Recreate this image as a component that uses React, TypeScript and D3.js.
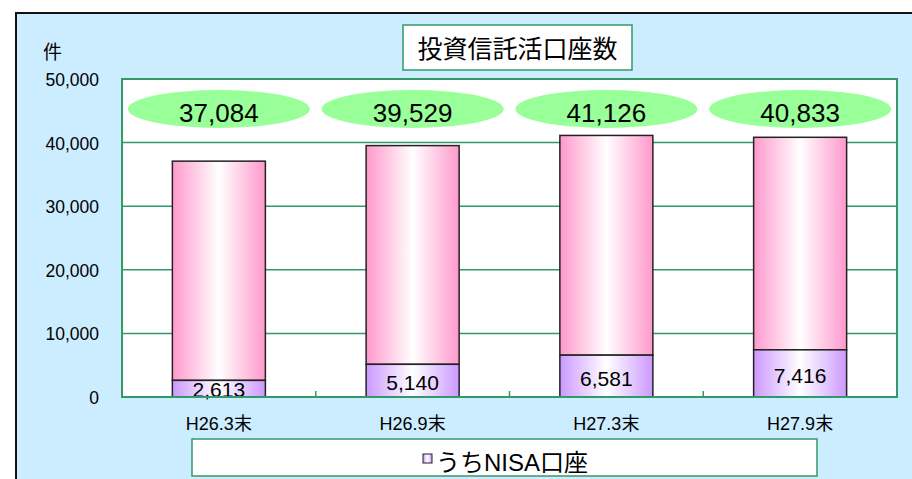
import React from "react";
import * as d3 from "d3";

const categories = ["H26.3末", "H26.9末", "H27.3末", "H27.9末"];
const totals = [37084, 39529, 41126, 40833];
const nisa = [2613, 5140, 6581, 7416];
const yTicks = [0, 10000, 20000, 30000, 40000, 50000];

const W = 912;
const H = 479;
const plot = { left: 122, right: 897, top: 79, bottom: 397 };
const FONT = "'Liberation Sans', Arial, 'Noto Sans CJK JP', sans-serif";
const GREEN = "#339966";

export default function App() {
  const x = d3.scaleBand<string>().domain(categories).range([plot.left, plot.right]).paddingInner(0.52).paddingOuter(0.26);
  const band = d3.scaleBand<string>().domain(categories).range([plot.left, plot.right]);
  const y = d3.scaleLinear().domain([0, 50000]).range([plot.bottom, plot.top]);
  const fmt = d3.format(",");
  const bw = x.bandwidth();

  return (
    <svg width={W} height={H} style={{ position: "absolute", left: 0, top: 0, display: "block" }}>
      <defs>
        <linearGradient id="pinkG" x1="0" x2="1" y1="0" y2="0">
          <stop offset="0" stopColor="#FF99CC" />
          <stop offset="0.5" stopColor="#FFFFFF" />
          <stop offset="1" stopColor="#FF99CC" />
        </linearGradient>
        <linearGradient id="purpG" x1="0" x2="1" y1="0" y2="0">
          <stop offset="0" stopColor="#CC99FF" />
          <stop offset="0.5" stopColor="#FFFFFF" />
          <stop offset="1" stopColor="#CC99FF" />
        </linearGradient>
      </defs>
      <rect x={0} y={0} width={W} height={H} fill="#FFFFFF" />
      <rect x={16} y={13} width={W + 20} height={H + 20} fill="#CCECFF" stroke="#111" strokeWidth={2} />

      {/* plot area */}
      <rect x={plot.left} y={plot.top} width={plot.right - plot.left} height={plot.bottom - plot.top} fill="#FFFFFF" />
      {yTicks.map((t) => (
        <line key={"g" + t} x1={plot.left} x2={plot.right} y1={y(t)} y2={y(t)} stroke={GREEN} strokeWidth={1.5} />
      ))}
      {categories.slice(1).map((c) => (
        <line key={"t" + c} x1={band(c)!} x2={band(c)!} y1={plot.bottom} y2={plot.bottom - 6} stroke={GREEN} strokeWidth={1.5} />
      ))}

      {/* bars */}
      {categories.map((c, i) => (
        <g key={"b" + c}>
          <rect x={x(c)!} y={y(totals[i])} width={bw} height={y(nisa[i]) - y(totals[i])} fill="url(#pinkG)" stroke="#222" strokeWidth={1.5} />
          <rect x={x(c)!} y={y(nisa[i])} width={bw} height={y(0) - y(nisa[i])} fill="url(#purpG)" stroke="#222" strokeWidth={1.5} />
          <text x={x(c)! + bw / 2} y={Math.min((y(nisa[i]) + y(0)) / 2 + 9.5, y(0))} textAnchor="middle" fontFamily={FONT} fontSize={21} fill="#000">
            {fmt(nisa[i])}
          </text>
        </g>
      ))}

      {/* plot border */}
      <rect x={plot.left} y={plot.top} width={plot.right - plot.left} height={plot.bottom - plot.top} fill="none" stroke={GREEN} strokeWidth={2} />

      {/* total ellipses */}
      {categories.map((c, i) => (
        <g key={"e" + c}>
          <ellipse cx={band(c)! + band.bandwidth() / 2} cy={109} rx={91} ry={19} fill="#99FF99" />
          <text x={band(c)! + band.bandwidth() / 2} y={122} textAnchor="middle" fontFamily={FONT} fontSize={26} fill="#000">
            {fmt(totals[i])}
          </text>
        </g>
      ))}

      {/* y axis labels */}
      {yTicks.map((t) => (
        <text key={"yl" + t} x={99} y={y(t) + 7} textAnchor="end" fontFamily={FONT} fontSize={17.5} fill="#000">
          {fmt(t)}
        </text>
      ))}
      <text x={43} y={59} fontFamily={FONT} fontSize={19} fill="#000">件</text>

      {/* x labels */}
      {categories.map((c) => (
        <text key={"xl" + c} x={band(c)! + band.bandwidth() / 2} y={430} textAnchor="middle" fontFamily={FONT} fontSize={18} fill="#000">
          {c}
        </text>
      ))}

      {/* title */}
      <rect x={403} y={25} width={229} height={45} fill="#FFFFFF" stroke={GREEN} strokeWidth={1.5} />
      <text x={517.5} y={58} textAnchor="middle" fontFamily={FONT} fontSize={25} fill="#000">投資信託活口座数</text>

      {/* legend */}
      <rect x={192} y={439} width={625} height={37} fill="#FFFFFF" stroke={GREEN} strokeWidth={1.5} />
      <rect x={423} y={454} width={9} height={9} fill="url(#purpG)" stroke="#222" strokeWidth={1} />
      <text x={436} y={471} fontFamily={FONT} fontSize={24} fill="#000">うちNISA口座</text>
    </svg>
  );
}
